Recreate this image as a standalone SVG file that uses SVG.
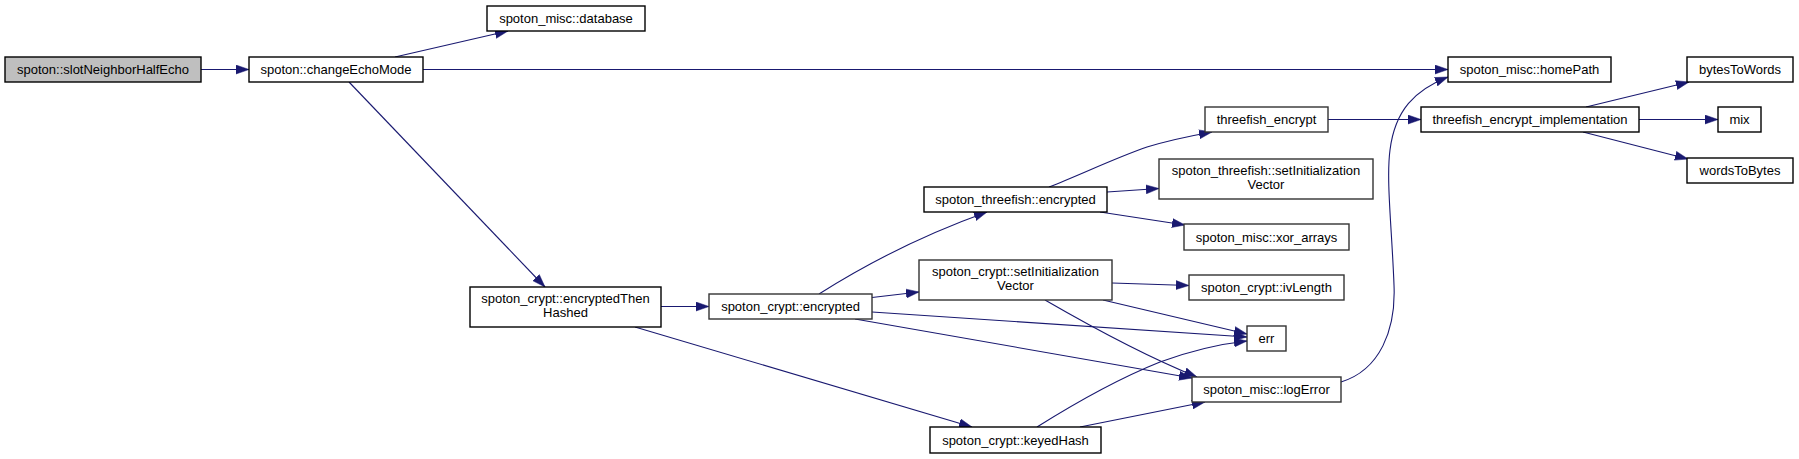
<svg xmlns="http://www.w3.org/2000/svg" width="1799" height="459" viewBox="0 0 1799 459">
<style>
.n rect{fill:#fff;stroke:#000;stroke-width:1.4}
.g rect{stroke:#333}
#slotNeighborHalfEcho rect{fill:#bfbfbf}
text{font-family:"Liberation Sans",Arial,sans-serif;font-size:13px;fill:#000;text-anchor:middle}
.e path{fill:none;stroke:#191970;stroke-width:1.1;marker-end:url(#ah)}
</style>
<defs>
<marker id="ah" markerUnits="userSpaceOnUse" markerWidth="14" markerHeight="10" refX="13" refY="5" orient="auto">
<path d="M0,0.5 L13,5 L0,9.5 z" fill="#191970" stroke="#191970" stroke-width="0.5"/>
</marker>
</defs>
<rect width="1799" height="459" fill="#fff"/>
<g id="connectors" class="e">
<path d="M201,69.5 L249,69.5"/>
<path d="M395,57 L508,31"/>
<path d="M423,69.5 L1448,69.5"/>
<path d="M349,82 L545,287"/>
<path d="M661,306.5 L709,306.5"/>
<path d="M635,327 L972,427"/>
<path d="M819,294 C860,268 920,236 987,212"/>
<path d="M872,297.5 L919,292"/>
<path d="M872,312 L1247,337"/>
<path d="M855,319 L1192,378"/>
<path d="M1112,283 L1189,285.5"/>
<path d="M1103,300 L1247,334"/>
<path d="M1045,300 C1090,326 1150,358 1197,377"/>
<path d="M1037,427 C1080,400 1120,378 1160,362 C1190,351 1220,344 1247,341"/>
<path d="M1080,427 L1205,402"/>
<path d="M1341,382 C1380,370 1396,330 1394,285 C1392,230 1386,180 1390,150 C1395,110 1415,90 1448,77"/>
<path d="M1049,187 C1080,175 1115,158 1147,147 C1170,140 1190,136 1212,132"/>
<path d="M1107,192 L1159,188.5"/>
<path d="M1100,212 L1185,225"/>
<path d="M1328,119.5 L1421,119.5"/>
<path d="M1586,107 L1689,82"/>
<path d="M1639,119.5 L1718,119.5"/>
<path d="M1583,132 L1688,159"/>
</g>
<g id="slotNeighborHalfEcho" class="n"><rect x="5" y="57" width="196" height="25"/><text x="103" y="74">spoton::slotNeighborHalfEcho</text></g>
<g id="changeEchoMode" class="n"><rect x="249" y="57" width="174" height="25"/><text x="336" y="74">spoton::changeEchoMode</text></g>
<g id="database" class="n"><rect x="487" y="6" width="158" height="25"/><text x="566" y="23">spoton_misc::database</text></g>
<g id="homePath" class="n"><rect x="1448" y="57" width="163" height="25"/><text x="1529.5" y="74">spoton_misc::homePath</text></g>
<g id="bytesToWords" class="n"><rect x="1687" y="57" width="106" height="25"/><text x="1740" y="74">bytesToWords</text></g>
<g id="threefish_encrypt" class="n g"><rect x="1205" y="107" width="123" height="25"/><text x="1266.5" y="124">threefish_encrypt</text></g>
<g id="threefish_encrypt_implementation" class="n"><rect x="1421" y="107" width="218" height="25"/><text x="1530" y="124">threefish_encrypt_implementation</text></g>
<g id="mix" class="n"><rect x="1718" y="107" width="43" height="25"/><text x="1739.5" y="124">mix</text></g>
<g id="wordsToBytes" class="n"><rect x="1687" y="158" width="106" height="25"/><text x="1740" y="175">wordsToBytes</text></g>
<g id="threefish_setIV" class="n g"><rect x="1159" y="159" width="214" height="40"/><text x="1266" y="174.5">spoton_threefish::setInitialization</text><text x="1266" y="188.5">Vector</text></g>
<g id="threefish_encrypted" class="n"><rect x="924" y="187" width="183" height="25"/><text x="1015.5" y="204">spoton_threefish::encrypted</text></g>
<g id="xor_arrays" class="n g"><rect x="1184" y="224" width="165" height="26"/><text x="1266.5" y="241.5">spoton_misc::xor_arrays</text></g>
<g id="crypt_setIV" class="n g"><rect x="919" y="260" width="193" height="40"/><text x="1015.5" y="275.5">spoton_crypt::setInitialization</text><text x="1015.5" y="289.5">Vector</text></g>
<g id="ivLength" class="n g"><rect x="1189" y="275" width="155" height="25"/><text x="1266.5" y="292">spoton_crypt::ivLength</text></g>
<g id="err" class="n g"><rect x="1247" y="326" width="39" height="25"/><text x="1266.5" y="343">err</text></g>
<g id="logError" class="n g"><rect x="1192" y="377" width="149" height="25"/><text x="1266.5" y="394">spoton_misc::logError</text></g>
<g id="keyedHash" class="n"><rect x="930" y="427" width="171" height="26"/><text x="1015.5" y="444.5">spoton_crypt::keyedHash</text></g>
<g id="encryptedThenHashed" class="n"><rect x="470" y="287" width="191" height="40"/><text x="565.5" y="302.5">spoton_crypt::encryptedThen</text><text x="565.5" y="316.5">Hashed</text></g>
<g id="crypt_encrypted" class="n g"><rect x="709" y="294" width="163" height="25"/><text x="790.5" y="311">spoton_crypt::encrypted</text></g>
</svg>
